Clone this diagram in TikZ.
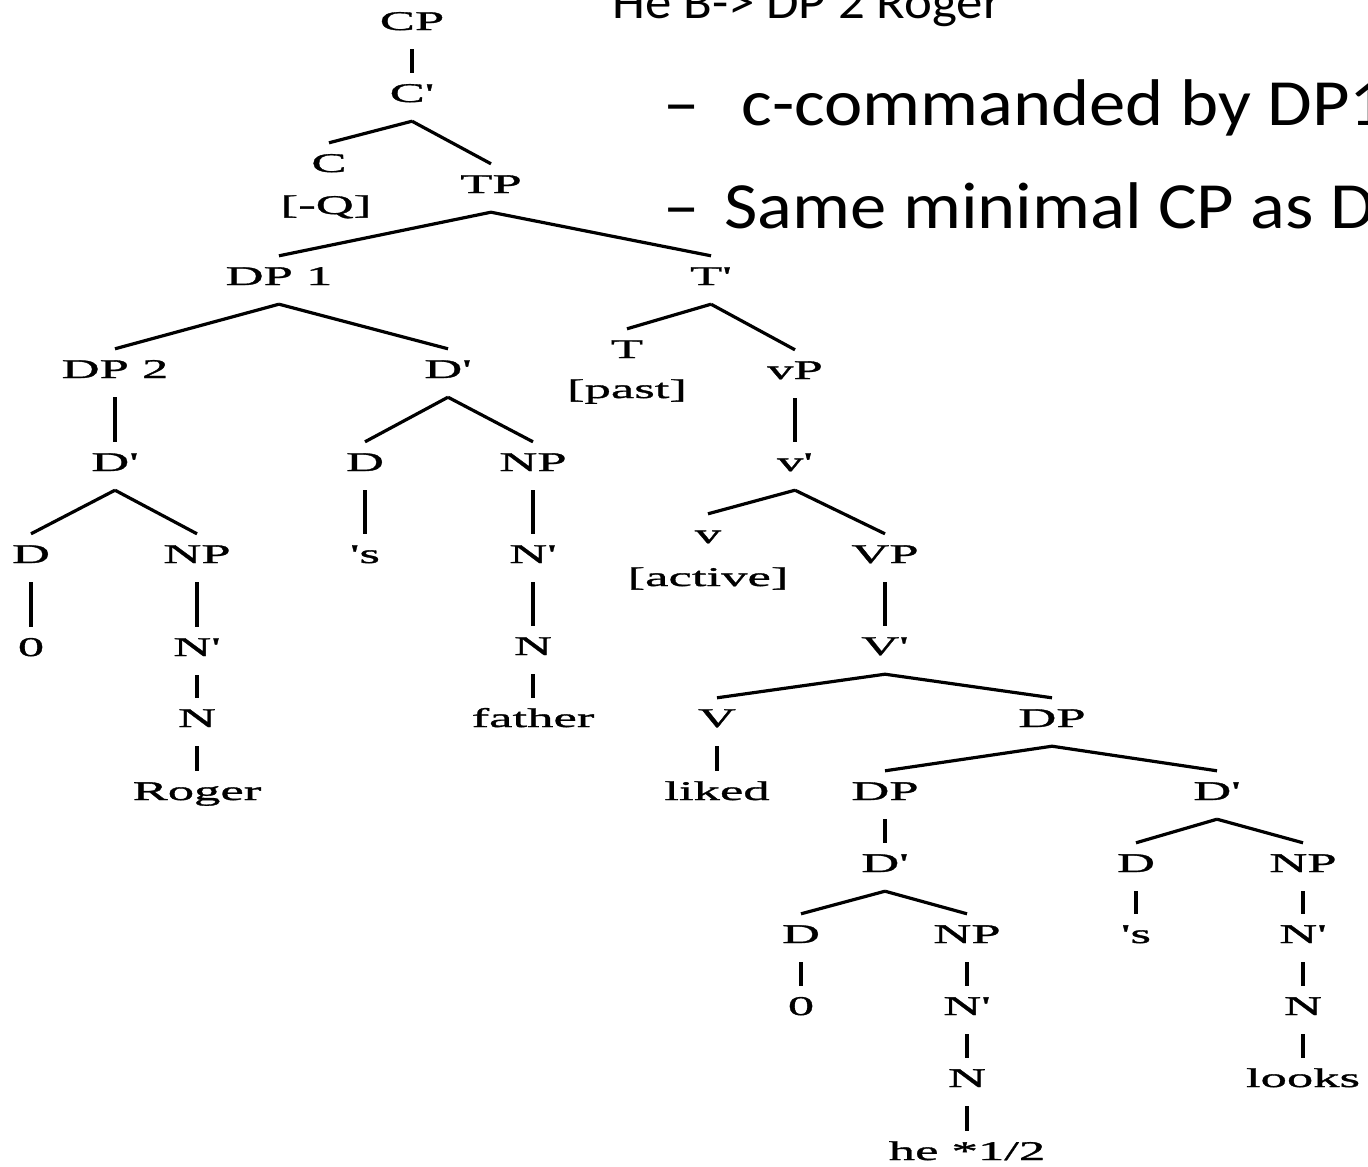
\documentclass[tikz,border=0pt]{standalone}
\usepackage{fontspec}
\usepackage{tikz}
\newfontfamily\treefont{Liberation Serif}[FakeStretch=1.95,FakeBold=1.2]
\newfontfamily\slidefont{Carlito}[FakeStretch=1.1]

\begin{document}
\begin{tikzpicture}[x=1pt,y=-1pt]
	\tikzstyle{cat}=[inner sep=0pt, anchor=base, text height=29pt, text depth=19pt, font=\treefont\fontsize{27}{30}\selectfont]
	\tikzstyle{feat}=[inner sep=0pt, anchor=base, font=\treefont\fontsize{27}{30}\selectfont]
	\tikzstyle{branch}=[line width=3.2pt]
	\tikzstyle{bullet}=[inner sep=0pt, anchor=base west, font=\slidefont\fontsize{66}{70}\selectfont]
	\useasboundingbox (0,0) rectangle (1368,1167);
	\clip (0,0) rectangle (1368,1167);
	% slide text
	\node [bullet, font=\slidefont\fontsize{48}{52}\selectfont] (head) at (612,19) {He B-> DP 2 Roger};
	\node [bullet] (cmd) at (663,125) {–\hspace{42pt}c-commanded by DP1};
	\node [bullet] (same) at (663,228) {–\hspace{25pt}Same minimal CP as DP1};
	% CP spine
	\node [cat] (cp) at (412,30) {CP};
	\node [cat] (cbar) at (412,102) {C'};
	\node [cat] (c) at (329,172) {C};
	\node [feat] (cfeat) at (326,214) {[-Q]};
	\node [cat] (tp) at (491,193) {TP};
	\node [cat] (dp1) at (279,285) {DP 1};
	\node [cat] (tbar) at (711,285) {T'};
	% subject
	\node [cat] (dp2) at (115,378) {DP 2};
	\node [cat] (dbar1) at (448,378) {D'};
	\node [cat] (dbar2) at (115,471) {D'};
	\node [cat] (d1) at (365,471) {D};
	\node [cat] (np1) at (533,471) {NP};
	\node [cat] (d2) at (31,563) {D};
	\node [cat] (np2) at (197,563) {NP};
	\node [cat] (s1) at (365,563) {'s};
	\node [cat] (nbar1) at (533,563) {N'};
	\node [cat] (zero1) at (31,656) {0};
	\node [cat] (nbar2) at (197,656) {N'};
	\node [cat] (n1) at (533,655) {N};
	\node [cat] (n2) at (197,727) {N};
	\node [cat] (father) at (533,727) {father};
	\node [cat] (roger) at (197,800) {Roger};
	% predicate
	\node [cat] (t) at (627,358) {T};
	\node [feat] (tfeat) at (627,398) {[past]};
	\node [cat] (vp) at (795,379) {vP};
	\node [cat] (vbar) at (795,471) {v'};
	\node [cat] (v) at (708,543) {v};
	\node [feat] (vfeat) at (708,586) {[active]};
	\node [cat] (vcap) at (885,563) {VP};
	\node [cat] (vbarcap) at (885,655) {V'};
	\node [cat] (verb) at (717,727) {V};
	\node [cat] (dp3) at (1052,727) {DP};
	\node [cat] (liked) at (717,800) {liked};
	% object
	\node [cat] (dp4) at (885,800) {DP};
	\node [cat] (dbar3) at (1217,800) {D'};
	\node [cat] (dbar4) at (885,872) {D'};
	\node [cat] (d3) at (1136,872) {D};
	\node [cat] (np3) at (1303,872) {NP};
	\node [cat] (d4) at (801,943) {D};
	\node [cat] (np4) at (967,943) {NP};
	\node [cat] (s2) at (1136,943) {'s};
	\node [cat] (nbar3) at (1303,943) {N'};
	\node [cat] (zero2) at (801,1015) {0};
	\node [cat] (nbar4) at (967,1015) {N'};
	\node [cat] (n3) at (1303,1015) {N};
	\node [cat] (n4) at (967,1087) {N};
	\node [cat] (looks) at (1303,1087) {looks};
	\node [cat] (he) at (967,1160) {he *1/2};
	% branches
	\foreach \a/\b in {cp/cbar, cbar/c, cbar/tp, tp/dp1, tp/tbar, dp1/dp2, dp1/dbar1,
		dp2/dbar2, dbar2/d2, dbar2/np2, d2/zero1, np2/nbar2, nbar2/n2, n2/roger,
		dbar1/d1, dbar1/np1, d1/s1, np1/nbar1, nbar1/n1, n1/father,
		tbar/t, tbar/vp, vp/vbar, vbar/v, vbar/vcap, vcap/vbarcap, vbarcap/verb, vbarcap/dp3,
		verb/liked, dp3/dp4, dp3/dbar3, dp4/dbar4, dbar4/d4, dbar4/np4, d4/zero2,
		np4/nbar4, nbar4/n4, n4/he, dbar3/d3, dbar3/np3, d3/s2, np3/nbar3, nbar3/n3, n3/looks}
		\draw [branch] (\a.south) -- (\b.north);
\end{tikzpicture}
\end{document}
